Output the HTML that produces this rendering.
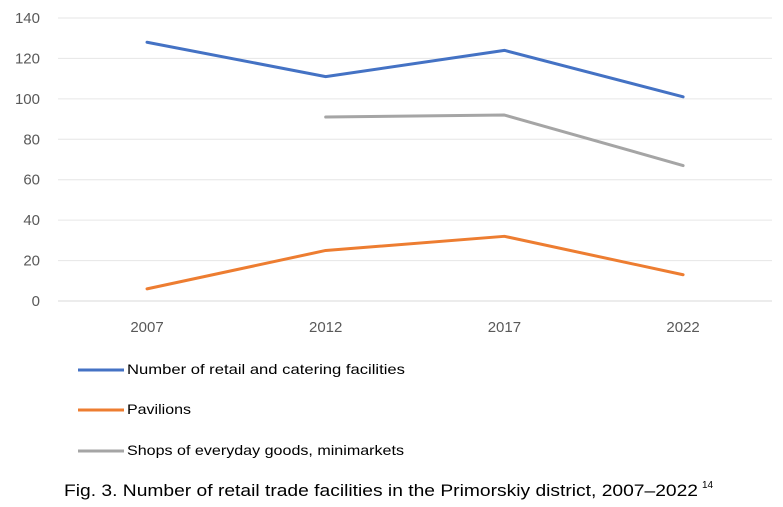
<!DOCTYPE html>
<html><head><meta charset="utf-8"><style>
body{margin:0;background:#fff;font-family:"Liberation Sans",sans-serif}
svg text{font-family:"Liberation Sans",sans-serif}
</style></head><body>
<svg width="783" height="502" id="c">
<g id="grid"></g><g id="lines"></g><g id="labels"></g>
<g>
<g><line x1="78" y1="370" x2="124" y2="370" stroke="#4472C4" stroke-width="3"/><text x="127" y="374" font-size="14" fill="#000" textLength="278" lengthAdjust="spacingAndGlyphs">Number of retail and catering facilities</text></g>
<g><line x1="78" y1="410" x2="124" y2="410" stroke="#ED7D31" stroke-width="3"/><text x="127" y="414" font-size="14" fill="#000" textLength="64" lengthAdjust="spacingAndGlyphs">Pavilions</text></g>
<g><line x1="78" y1="451" x2="124" y2="451" stroke="#A5A5A5" stroke-width="3"/><text x="127" y="455" font-size="14" fill="#000" textLength="277" lengthAdjust="spacingAndGlyphs">Shops of everyday goods, minimarkets</text></g>
</g>
<text x="64" y="496" font-size="17" fill="#000" textLength="634" lengthAdjust="spacingAndGlyphs">Fig. 3. Number of retail trade facilities in the Primorskiy district, 2007–2022</text>
<text x="702" y="488" font-size="10" fill="#000">14</text>
</svg>
<script>
const categories=["2007","2012","2017","2022"];
const retail=[128,111,124,101];
const pavilions=[6,25,32,13];
const shops=[null,91,92,67];
const yTicks=[0,20,40,60,80,100,120,140];
const NS="http://www.w3.org/2000/svg";
const x0=147,dx=178.7,yb=301,ppu=(301-18)/140;
const X=i=>x0+i*dx, Y=v=>yb-v*ppu;
const g=document.getElementById('grid'),L=document.getElementById('lines'),lb=document.getElementById('labels');
function mk(t,a,p){const e=document.createElementNS(NS,t);for(const k in a)e.setAttribute(k,a[k]);p.appendChild(e);return e;}
yTicks.forEach(v=>{
 const l=mk('line',{x1:58,x2:772,y1:Y(v),y2:Y(v),stroke:v===0?'#d9d9d9':'#e6e6e6','stroke-width':1},g);
 
 
 const t=mk('text',{x:40,y:Y(v)+5,'text-anchor':'end','font-size':15,fill:'#595959'},lb);
 t.textContent=v;
 
 
});
categories.forEach((c,i)=>{
 const t=mk('text',{x:X(i),y:332,'text-anchor':'middle','font-size':15,fill:'#595959'},lb);
 t.textContent=c;
 
 
});
[[retail,'#4472C4','line-retail'],[pavilions,'#ED7D31','line-pavilions'],[shops,'#A5A5A5','line-shops']].forEach(([d,col,n])=>{
 const pts=d.map((v,i)=>v==null?null:X(i)+','+Y(v)).filter(p=>p);
 const p=mk('polyline',{points:pts.join(' '),fill:'none',stroke:col,'stroke-width':3,'stroke-linejoin':'round','stroke-linecap':'round'},L);
 
 
});
</script>
</body></html>
